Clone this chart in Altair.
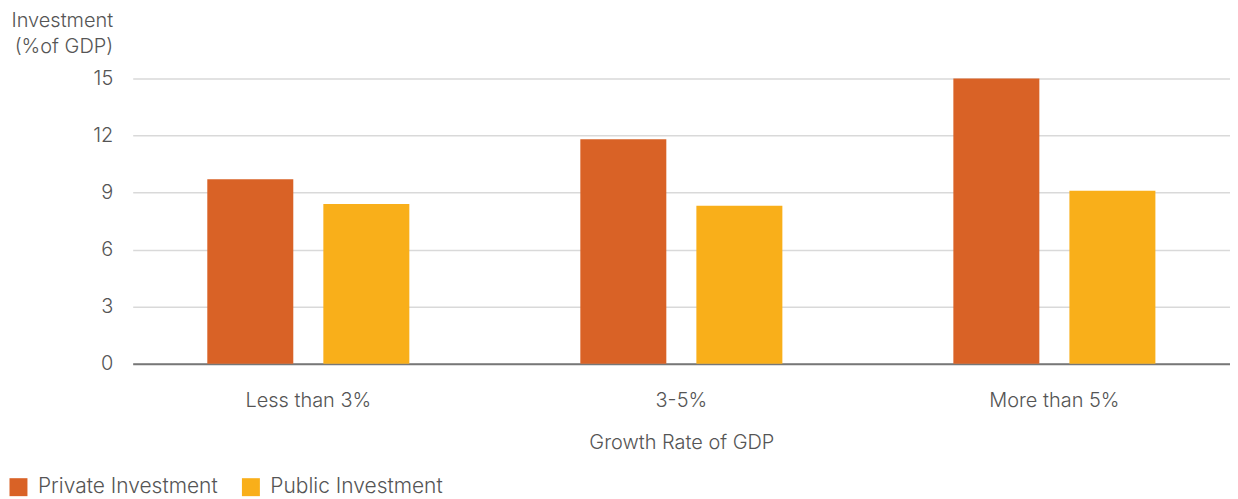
import altair as alt
import pandas as pd

categories = ["Less than 3%", "3-5%", "More than 5%"]
series = ["Private Investment", "Public Investment"]
private_vals = [9.7, 11.8, 15.0]
public_vals = [8.4, 8.3, 9.1]
colors = ["#D96226", "#F9AF1A"]
y_ticks = [0, 3, 6, 9, 12, 15]

rows = []
for c, p, q in zip(categories, private_vals, public_vals):
    rows.append({"growth": c, "series": series[0], "value": p})
    rows.append({"growth": c, "series": series[1], "value": q})
df = pd.DataFrame(rows)

FONT = "Inter"
FW = 300
TXT = "#555555"
FS = 20

chart = alt.Chart(df).mark_bar().encode(
    x=alt.X("growth:N", sort=categories,
            scale=alt.Scale(paddingInner=0.4584, paddingOuter=0.2),
            axis=alt.Axis(title="Growth Rate of GDP", labelAngle=0, ticks=False,
                          domainColor="#777777", domainWidth=2,
                          labelPadding=27, titlePadding=22,
                          labelFontSize=FS, titleFontSize=FS,
                          labelColor=TXT, titleColor=TXT,
                          labelFont=FONT, titleFont=FONT,
                          labelFontWeight=FW, titleFontWeight=FW)),
    xOffset=alt.XOffset("series:N", sort=series,
                        scale=alt.Scale(paddingInner=0.259, paddingOuter=0)),
    y=alt.Y("value:Q", scale=alt.Scale(domain=[0, 15], nice=False),
            axis=alt.Axis(values=y_ticks, title=["Investment", "(%of GDP)"],
                          titleAngle=0, titleAlign="right", titleBaseline="alphabetic",
                          titleX=-20, titleY=-52, titleLineHeight=26,
                          ticks=False, domain=False, labelPadding=20,
                          gridColor="#D9D9D9", gridWidth=1.5,
                          labelFontSize=FS, titleFontSize=FS,
                          labelColor=TXT, titleColor=TXT,
                          labelFont=FONT, titleFont=FONT,
                          labelFontWeight=FW, titleFontWeight=FW)),
    color=alt.Color("series:N", sort=series,
                    scale=alt.Scale(domain=series, range=colors),
                    legend=alt.Legend(title=None, orient="none", direction="horizontal",
                                      legendX=-125, legendY=399,
                                      symbolType="square", symbolSize=324,
                                      symbolStrokeWidth=0, symbolOpacity=1,
                                      labelFontSize=21, labelColor=TXT, labelFont=FONT,
                                      labelFontWeight=FW, labelLimit=0,
                                      labelOffset=9, columnPadding=22)),
).properties(
    width=1100, height=286,
    autosize=alt.AutoSizeParams(type="none"),
    padding={"left": 125, "top": 70, "right": 0, "bottom": 133},
).configure_view(stroke=None)

chart.save("out.html", embed_options={"renderer": "svg", "actions": False})
